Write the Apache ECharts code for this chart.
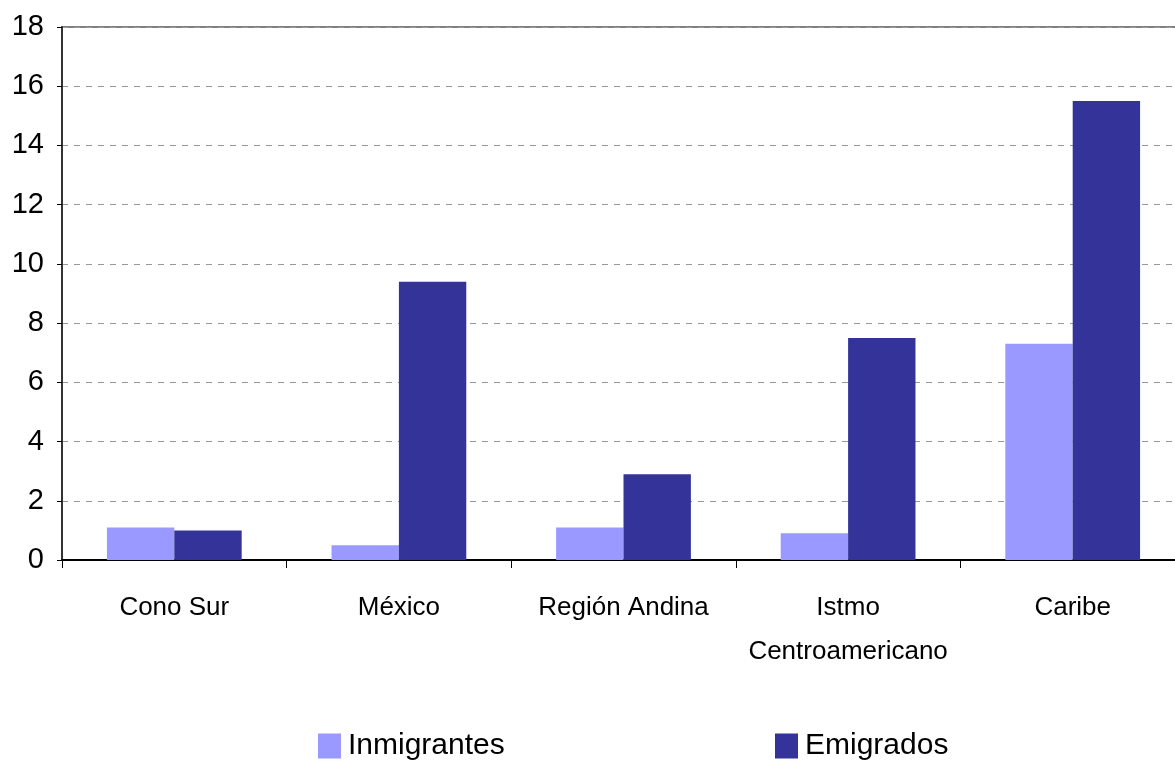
<!DOCTYPE html>
<html>
<head>
<meta charset="utf-8">
<script src="https://cdn.jsdelivr.net/npm/echarts@6/dist/echarts.min.js"></script>
<style>html,body{margin:0;padding:0;background:#fff;overflow:hidden;width:1175px;height:762px}#c{width:1190px;height:762px}</style>
</head>
<body>
<div id="c"></div>
<script>
const categories = ['Cono Sur', 'México', 'Región Andina', 'Istmo\nCentroamericano', 'Caribe'];
const inmigrantes = [1.1, 0.5, 1.1, 0.9, 7.3];
const emigrados = [1.0, 9.4, 2.9, 7.5, 15.5];
const yTicks = { min: 0, max: 18, interval: 2 };
const font = 'Liberation Sans, Arial, sans-serif';

const chart = echarts.init(document.getElementById('c'), null, { renderer: 'canvas' });
chart.setOption({
  animation: false,
  backgroundColor: '#fff',
  textStyle: { fontFamily: font },
  grid: { left: 62, top: 27, width: 1123, height: 533, show: true, borderColor: '#808080', borderWidth: 2, backgroundColor: 'transparent' },
  legend: [
    { data: ['Inmigrantes'], left: 318, top: 731, padding: 0, icon: 'rect', itemWidth: 23, itemHeight: 25, itemGap: 0,
      textStyle: { fontSize: 30, lineHeight: 30, color: '#000', fontFamily: font, padding: [0, 0, 0, 2] } },
    { data: ['Emigrados'], left: 775, top: 731, padding: 0, icon: 'rect', itemWidth: 23, itemHeight: 25, itemGap: 0,
      textStyle: { fontSize: 30, lineHeight: 30, color: '#000', fontFamily: font, padding: [0, 0, 0, 2] } }
  ],
  xAxis: {
    type: 'category',
    data: categories,
    axisLine: { lineStyle: { color: '#000', width: 2 } },
    axisTick: { show: true, length: 8, lineStyle: { color: '#000' } },
    axisLabel: { fontSize: 26, color: '#000', margin: 26, lineHeight: 44, fontFamily: font, interval: 0 },
    splitLine: { show: false }
  },
  yAxis: {
    type: 'value',
    min: yTicks.min, max: yTicks.max, interval: yTicks.interval,
    axisLine: { show: true, lineStyle: { color: '#333', width: 2 } },
    axisTick: { show: true, length: 5, lineStyle: { color: '#000' } },
    axisLabel: { fontSize: 29, color: '#000', margin: 18, fontFamily: font },
    splitLine: { show: true, lineStyle: { color: '#999', type: [6, 6], width: 1 } }
  },
  series: [
    { name: 'Inmigrantes', type: 'bar', data: inmigrantes, itemStyle: { color: '#9999FF' }, barGap: '0%', barCategoryGap: '40%' },
    { name: 'Emigrados', type: 'bar', data: emigrados, itemStyle: { color: '#333399' }, barGap: '0%', barCategoryGap: '40%' }
  ]
});
</script>
</body>
</html>
